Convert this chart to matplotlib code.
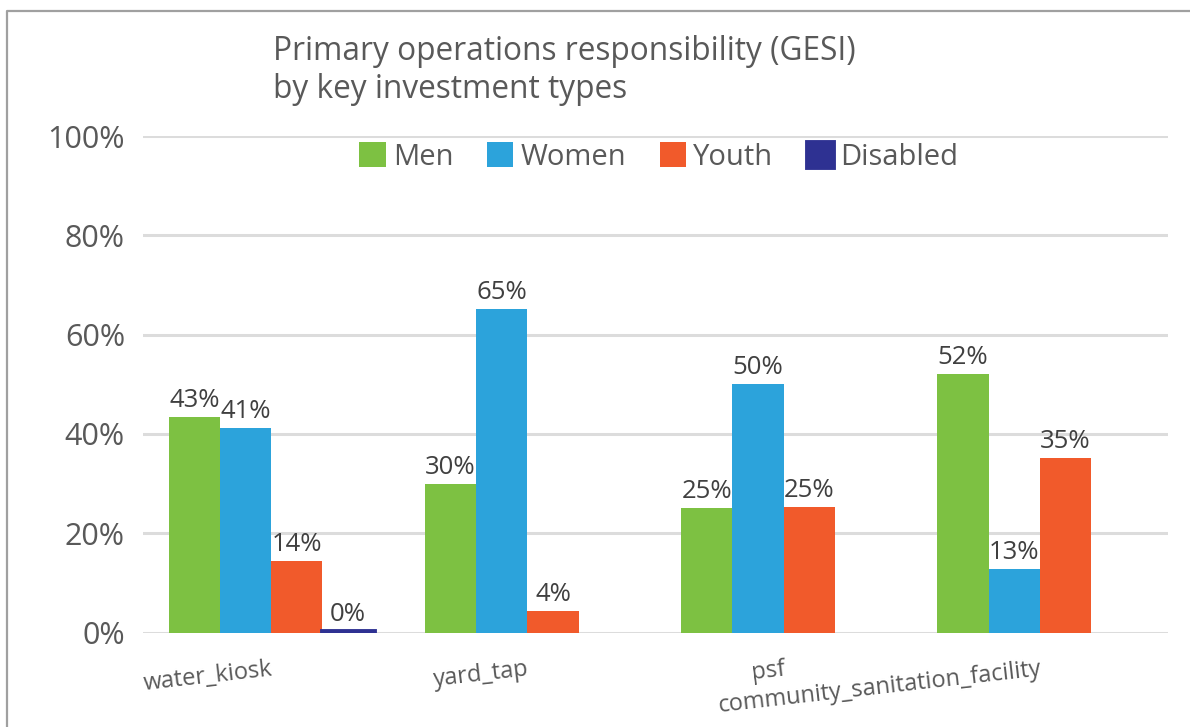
import numpy as np
import matplotlib
matplotlib.use("Agg")
import matplotlib.pyplot as plt
from matplotlib.lines import Line2D

plt.rcParams['font.family'] = ['Open Sans', 'DejaVu Sans']

# Data
categories = ["water_kiosk", "yard_tap", "psf", "community_sanitation_facility"]
men = [0.434, 0.30, 0.25, 0.52]
women = [0.412, 0.652, 0.50, 0.127]
youth = [0.144, 0.044, 0.252, 0.352]
disabled = [0.004, np.nan, np.nan, np.nan]
series_names = ["Men", "Women", "Youth", "Disabled"]
colors = ["#7DC142", "#2CA3DB", "#F15A2B", "#2E3192"]
yticks = [0, 0.2, 0.4, 0.6, 0.8, 1.0]
title_lines = ["Primary operations responsibility (GESI)", "by key investment types"]

W, H = 1190, 727
fig = plt.figure(figsize=(W / 100, H / 100), dpi=100)
ax = fig.add_axes([143 / W, 1 - 632.5 / H, 1025 / W, 496.5 / H])

x = np.arange(len(categories))
bw = 0.2
series = [men, women, youth, disabled]
for i, (vals, name, col) in enumerate(zip(series, series_names, colors)):
    vals = np.array(vals, dtype=float)
    pos = x + (i - 1.5) * bw
    lw = 3.5 if name == "Disabled" else 0
    ax.bar(pos, vals, bw, color=col, label=name, zorder=3,
           edgecolor=col, linewidth=lw)
    for p, v in zip(pos, vals):
        if np.isnan(v):
            continue
        ax.text(p, v + 0.008, f"{v:.0%}", ha="center", va="bottom",
                fontsize=18.5, color="#404040", zorder=4)

ax.set_xlim(-0.5, len(categories) - 0.5)
ax.set_ylim(0, 1.0)
ax.set_yticks(yticks, [f"{t:.0%}" for t in yticks])
ax.yaxis.grid(True, color="#DCDCDC", linewidth=2.2, zorder=0)
ax.set_axisbelow(True)
for s in ax.spines.values():
    s.set_visible(False)
ax.tick_params(axis="y", length=0, pad=13, labelsize=22, labelcolor="#595959")
ax.set_xticks(x, categories, rotation=6.5, ha="right", va="top",
              rotation_mode="anchor")
ax.tick_params(axis="x", length=0, pad=18, labelsize=17, labelcolor="#595959")

# Title
fig.text(273 / W, 1 - 60 / H, title_lines[0], ha="left", va="baseline",
         fontsize=22.8, color="#595959")
fig.text(273 / W, 1 - 98 / H, title_lines[1], ha="left", va="baseline",
         fontsize=22.8, color="#595959")

# Legend
leg = fig.legend(loc="center", bbox_to_anchor=(659 / W, 1 - 157 / H), ncol=4,
                 frameon=False, fontsize=21, handlelength=0.9,
                 handleheight=0.9, handletextpad=0.25, columnspacing=1.15,
                 labelcolor="#595959")

# Chart border
fig.add_artist(Line2D([7 / W, 7 / W, 1.0], [0, 1 - 11 / H, 1 - 11 / H],
                      transform=fig.transFigure, color="#A0A0A0", lw=1.6))

fig.savefig("out.png", dpi=100)
